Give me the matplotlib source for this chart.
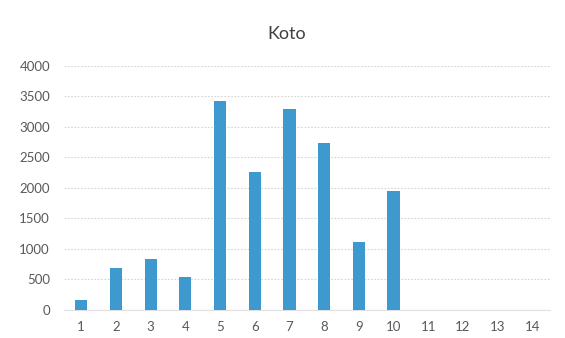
import matplotlib
matplotlib.use("Agg")
import matplotlib.pyplot as plt

categories = [str(i) for i in range(1, 15)]
values = [165, 690, 835, 540, 3430, 2260, 3290, 2740, 1110, 1950, 0, 0, 0, 0]
yticks = [0, 500, 1000, 1500, 2000, 2500, 3000, 3500, 4000]
title = "Koto"

plt.rcParams['font.family'] = ['Lato', 'DejaVu Sans']

fig = plt.figure(figsize=(5.65, 3.38), dpi=100)
ax = fig.add_axes([0.113, 0.083, 0.86, 0.722])

x = list(range(len(categories)))
ax.bar(x, values, width=0.35, color='#3D99CE', zorder=3)

ax.set_xlim(-0.5, len(categories) - 0.5)
ax.set_ylim(0, 4000)
ax.set_yticks(yticks)
ax.set_yticklabels([str(v) for v in yticks])
ax.set_xticks(x)
ax.set_xticklabels(categories)

ax.grid(axis='y', color='#d4d4d4', linestyle=(0, (1.5, 1.5)), linewidth=0.8, zorder=0)
for s in ['top', 'right', 'left']:
    ax.spines[s].set_visible(False)
ax.spines['bottom'].set_color('#e0e0e0')
ax.spines['bottom'].set_linewidth(0.8)

ax.tick_params(axis='both', length=0, labelsize=9.5, labelcolor='#595959')
ax.tick_params(axis='y', pad=10)
ax.tick_params(axis='x', pad=8)

fig.text(0.508, 0.9, title, ha='center', va='center', fontsize=13, color='#404040')

fig.savefig("out.png", dpi=100, facecolor='white')
